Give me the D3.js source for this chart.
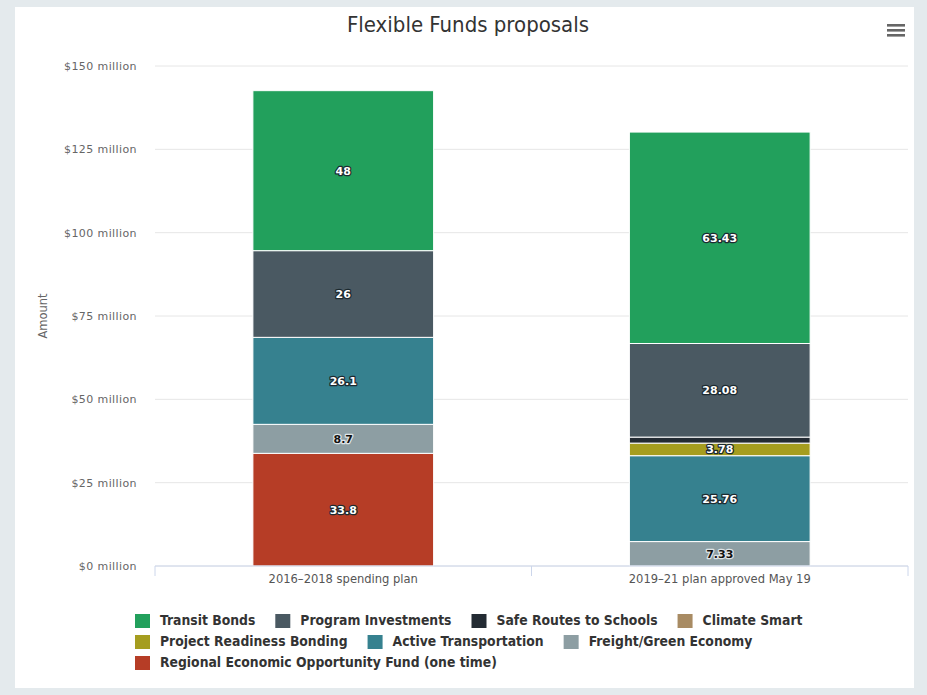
<!DOCTYPE html>
<html>
<head>
<meta charset="utf-8">
<script src="https://cdn.jsdelivr.net/npm/d3@7"></script>
<style>
  html, body { margin: 0; padding: 0; background: #e4eaed; }
  svg { display: block; }
</style>
</head>
<body>
<script>
// Categories and stacked series (legend order = top of stack first)
const categories = ['2016\u20132018 spending plan', '2019\u201321 plan approved May 19'];
const seriesNames = ['Transit Bonds', 'Program Investments', 'Safe Routes to Schools', 'Climate Smart',
  'Project Readiness Bonding', 'Active Transportation', 'Freight/Green Economy',
  'Regional Economic Opportunity Fund (one time)'];
const seriesColors = ['#22a05c', '#4a5962', '#232b33', '#a88b63', '#a59d1f', '#36818f', '#8d9ea3', '#b63d26'];
const transitBonds = [48, 63.43];
const programInvestments = [26, 28.08];
const safeRoutes = [null, 1.8];
const climateSmart = [null, null];
const projectReadiness = [null, 3.78];
const activeTransportation = [26.1, 25.76];
const freightGreen = [8.7, 7.33];
const regionalFund = [33.8, null];
const yTicks = [0, 25, 50, 75, 100, 125, 150];

const seriesValues = [transitBonds, programInvestments, safeRoutes, climateSmart,
  projectReadiness, activeTransportation, freightGreen, regionalFund];

const W = 927, H = 695;
const margin = { top: 66, right: 19, bottom: 129, left: 155 };
const plotW = W - margin.left - margin.right;
const plotH = H - margin.top - margin.bottom;
const narrow = '"Liberation Sans Narrow", "DejaVu Sans Condensed", sans-serif';

const svg = d3.select('body').append('svg')
  .attr('width', W)
  .attr('height', H);

// white chart panel
svg.append('rect')
  .attr('x', 15).attr('y', 7)
  .attr('width', 899).attr('height', 681)
  .attr('fill', '#ffffff');

// Title
svg.append('text')
  .attr('x', 468).attr('y', 32)
  .attr('text-anchor', 'middle')
  .attr('font-family', narrow)
  .attr('font-size', 22)
  .attr('fill', '#333')
  .text('Flexible Funds proposals');

// menu icon
const menu = svg.append('g').attr('transform', 'translate(887,24)');
[0, 5, 10].forEach(dy => {
  menu.append('rect').attr('x', 0).attr('y', dy).attr('width', 18).attr('height', 2.6).attr('fill', '#666');
});

const g = svg.append('g').attr('transform', `translate(${margin.left},${margin.top})`);

const x = d3.scaleBand().domain(categories).range([0, plotW]).padding(0);
const y = d3.scaleLinear().domain([0, 150]).range([plotH, 0]);
const barW = x.bandwidth() * 0.48;

// gridlines
g.append('g')
  .selectAll('line')
  .data(yTicks)
  .join('line')
  .attr('x1', 0).attr('x2', plotW)
  .attr('y1', d => y(d)).attr('y2', d => y(d))
  .attr('stroke', '#e6e6e6');

// y axis labels
const yAxis = g.append('g')
  .call(d3.axisLeft(y).tickValues(yTicks).tickSize(0).tickPadding(18).tickFormat(d => `$${d} million`));
yAxis.select('.domain').remove();
yAxis.selectAll('text')
  .attr('font-family', '"DejaVu Sans", sans-serif')
  .attr('font-size', 11)
  .attr('letter-spacing', 0.4)
  .attr('fill', '#666');

// y title
svg.append('text')
  .attr('transform', `translate(47,${margin.top + plotH / 2}) rotate(-90)`)
  .attr('text-anchor', 'middle')
  .attr('font-family', '"DejaVu Sans", sans-serif')
  .attr('font-size', 11.5)
  .attr('fill', '#666')
  .text('Amount');

// stacked bars (bottom of stack = last series)
const rows = categories.map((c, i) => {
  const r = { category: c };
  seriesNames.forEach((s, k) => { r[s] = seriesValues[k][i] || 0; });
  return r;
});
const stack = d3.stack().keys(seriesNames.slice().reverse());
const layers = stack(rows);

layers.forEach(layer => {
  const k = seriesNames.indexOf(layer.key);
  const color = seriesColors[k];
  layer.forEach((d, i) => {
    const v = seriesValues[k][i];
    if (!v) return;
    const cx = x(categories[i]) + x.bandwidth() / 2;
    const y0 = y(d[0]), y1 = y(d[1]);
    g.append('rect')
      .attr('x', cx - barW / 2)
      .attr('y', y1)
      .attr('width', barW)
      .attr('height', y0 - y1)
      .attr('fill', color)
      .attr('stroke', '#ffffff')
      .attr('stroke-width', 1);
    if (y0 - y1 < 10) return;
    const light = d3.hsl(color).l > 0.55;
    g.append('text')
      .attr('x', cx)
      .attr('y', (y0 + y1) / 2 + 4)
      .attr('text-anchor', 'middle')
      .attr('font-family', '"DejaVu Sans", sans-serif')
      .attr('font-weight', 'bold')
      .attr('font-size', 11)
      .attr('fill', light ? '#111' : '#fff')
      .attr('stroke', light ? '#dfe5e7' : '#1c2a30')
      .attr('stroke-width', 2.5)
      .attr('stroke-linejoin', 'round')
      .attr('paint-order', 'stroke')
      .text(v);
  });
});

// x axis
const xAxis = g.append('g')
  .attr('transform', `translate(0,${plotH})`);
xAxis.append('line')
  .attr('x1', 0).attr('x2', plotW)
  .attr('stroke', '#ccd6eb');
xAxis.selectAll('line.tick')
  .data([0, plotW / 2, plotW])
  .join('line')
  .attr('class', 'tick')
  .attr('x1', d => d).attr('x2', d => d)
  .attr('y1', 0).attr('y2', 10)
  .attr('stroke', '#ccd6eb');
xAxis.selectAll('text')
  .data(categories)
  .join('text')
  .attr('x', d => x(d) + x.bandwidth() / 2)
  .attr('y', 17)
  .attr('text-anchor', 'middle')
  .attr('font-family', narrow)
  .attr('font-size', 12.8)
  .attr('fill', '#555')
  .text(d => d);

// legend
const legend = svg.append('g');
const items = seriesNames.map((name, k) => {
  const it = legend.append('g');
  it.append('rect')
    .attr('x', 0).attr('y', -11)
    .attr('width', 15).attr('height', 14)
    .attr('fill', seriesColors[k]);
  const t = it.append('text')
    .attr('x', 25).attr('y', 0)
    .attr('font-family', narrow)
    .attr('font-weight', 'bold')
    .attr('font-size', 13.8)
    .attr('fill', '#333')
    .text(name);
  return { g: it, w: 25 + t.node().getComputedTextLength() };
});
const maxRow = 680, gap = 20, lineH = 21;
let cx = 0, row = 0, widest = 0;
items.forEach(it => {
  if (cx > 0 && cx + it.w > maxRow) { row += 1; cx = 0; }
  it.g.attr('transform', `translate(${cx},${row * lineH})`);
  cx += it.w + gap;
  widest = Math.max(widest, cx - gap);
});
legend.attr('transform', `translate(${Math.max(135, 467 - widest / 2)},625)`);
</script>
</body>
</html>
